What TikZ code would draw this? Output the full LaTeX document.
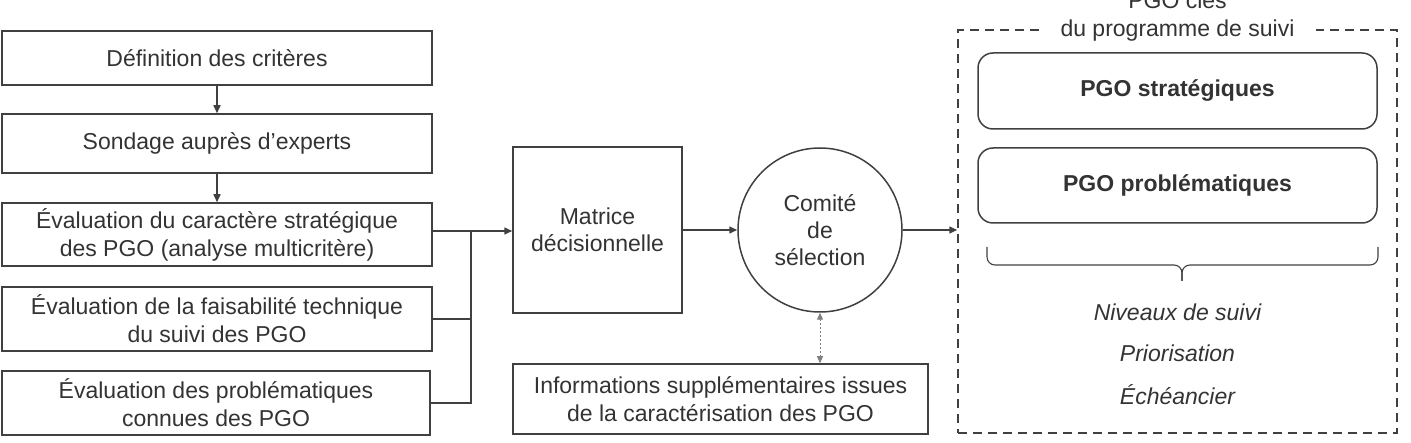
\documentclass[tikz,border=0pt]{standalone}
\usepackage{fontspec}
\setmainfont{Liberation Sans}
\usetikzlibrary{arrows.meta}
\definecolor{ln}{HTML}{404040}
\definecolor{tx}{HTML}{333333}
\begin{document}
\begin{tikzpicture}[x=1pt,y=-1pt,
  base/.style={text=tx, align=center, font=\fontsize{23}{28}\selectfont, inner sep=0pt},
  box/.style={base, draw=ln, line width=1.5pt},
  rbox/.style={box, rounded corners=15pt, font=\fontsize{23}{28}\selectfont\bfseries},
  circ/.style={base, draw=ln, line width=1.5pt, circle, minimum size=164pt, font=\fontsize{23}{27}\selectfont},
  frame/.style={draw=ln, line width=1.5pt, dash pattern=on 9pt off 6pt, inner sep=0pt},
  arr/.style={draw=ln, line width=1.5pt, -{Triangle[length=8pt,width=7pt]}},
  lnk/.style={draw=ln, line width=1.5pt},
  bracestyle/.style={draw=ln, line width=1.1pt, rounded corners=8pt},
  dotarr/.style={draw=gray, line width=1pt, dash pattern=on 2pt off 2pt, {Triangle[length=7pt,width=6pt]}-{Triangle[length=7pt,width=6pt]}},
  itx/.style={base, font=\fontsize{23}{28}\selectfont\itshape}
]
\useasboundingbox (0,0) rectangle (1411,443);
% left column
\node[box, minimum width=430pt, minimum height=54pt] (b1) at (217,58) {Définition des critères};
\node[box, minimum width=430pt, minimum height=59pt] (b2) at (217,143.5) {Sondage auprès d’experts};
\node[box, minimum width=430pt, minimum height=63pt] (b3) at (217,234.5) {Évaluation du caractère stratégique\\des PGO (analyse multicritère)};
\node[box, minimum width=430pt, minimum height=64pt] (b4) at (217,319) {Évaluation de la faisabilité technique\\du suivi des PGO};
\node[box, minimum width=428pt, minimum height=64pt] (b5) at (216,403) {Évaluation des problématiques\\connues des PGO};
\draw[arr] (b1.south) -- (b2.north);
\draw[arr] (b2.south) -- (b3.north);
% middle
\node[box, minimum width=169pt, minimum height=166pt, font=\fontsize{23}{27}\selectfont] (mat) at (597.5,230) {Matrice\\décisionnelle};
\node[box, minimum width=415pt, minimum height=70pt] (info) at (720.5,399) {Informations supplémentaires issues\\de la caractérisation des PGO};
\node[circ] (com) at (820,230) {Comité\\de\\sélection};
% merge
\coordinate (j1) at (471,231);
\coordinate (j3) at (471,403);
\draw[lnk] (b3.east |- j1) -- (j1);
\draw[lnk] (b4.east) -- (b4.east -| j1);
\draw[lnk] (b5.east |- j3) -- (j3) -- (j1);
\draw[arr] (j1) -- (j1 -| mat.west);
\draw[arr] (mat.east |- com.west) -- (com.west);
\draw[dotarr] (com.south) -- (com.south |- info.north);
% right frame
\node[frame, minimum width=439pt, minimum height=403pt] (fr) at (1177.5,231.5) {};
\node[base, fill=white, inner xsep=22pt, inner ysep=2pt] (title) at (1177.5,16) {PGO clés\\du programme de suivi};
\draw[arr] (com.east) -- (com.east -| fr.west);
\node[rbox, minimum width=399pt, minimum height=76pt] (s1) at (1177.5,91) {PGO stratégiques};
\node[rbox, minimum width=399pt, minimum height=75pt] (s2) at (1177.5,185.5) {PGO problématiques};
\coordinate (brA) at (987,247);
\coordinate (brB) at (1378,247);
\coordinate (brM) at (1182,265);
\coordinate (brT) at (1182,281);
\draw[bracestyle] (brA) |- (brM) -- (brT);
\draw[bracestyle] (brB) |- (brM) -- (brT);
\node[itx] (n1) at (1177.5,312) {Niveaux de suivi};
\node[itx] (n2) at (1177.5,353) {Priorisation};
\node[itx] (n3) at (1177.5,395) {Échéancier};
\end{tikzpicture}
\end{document}
